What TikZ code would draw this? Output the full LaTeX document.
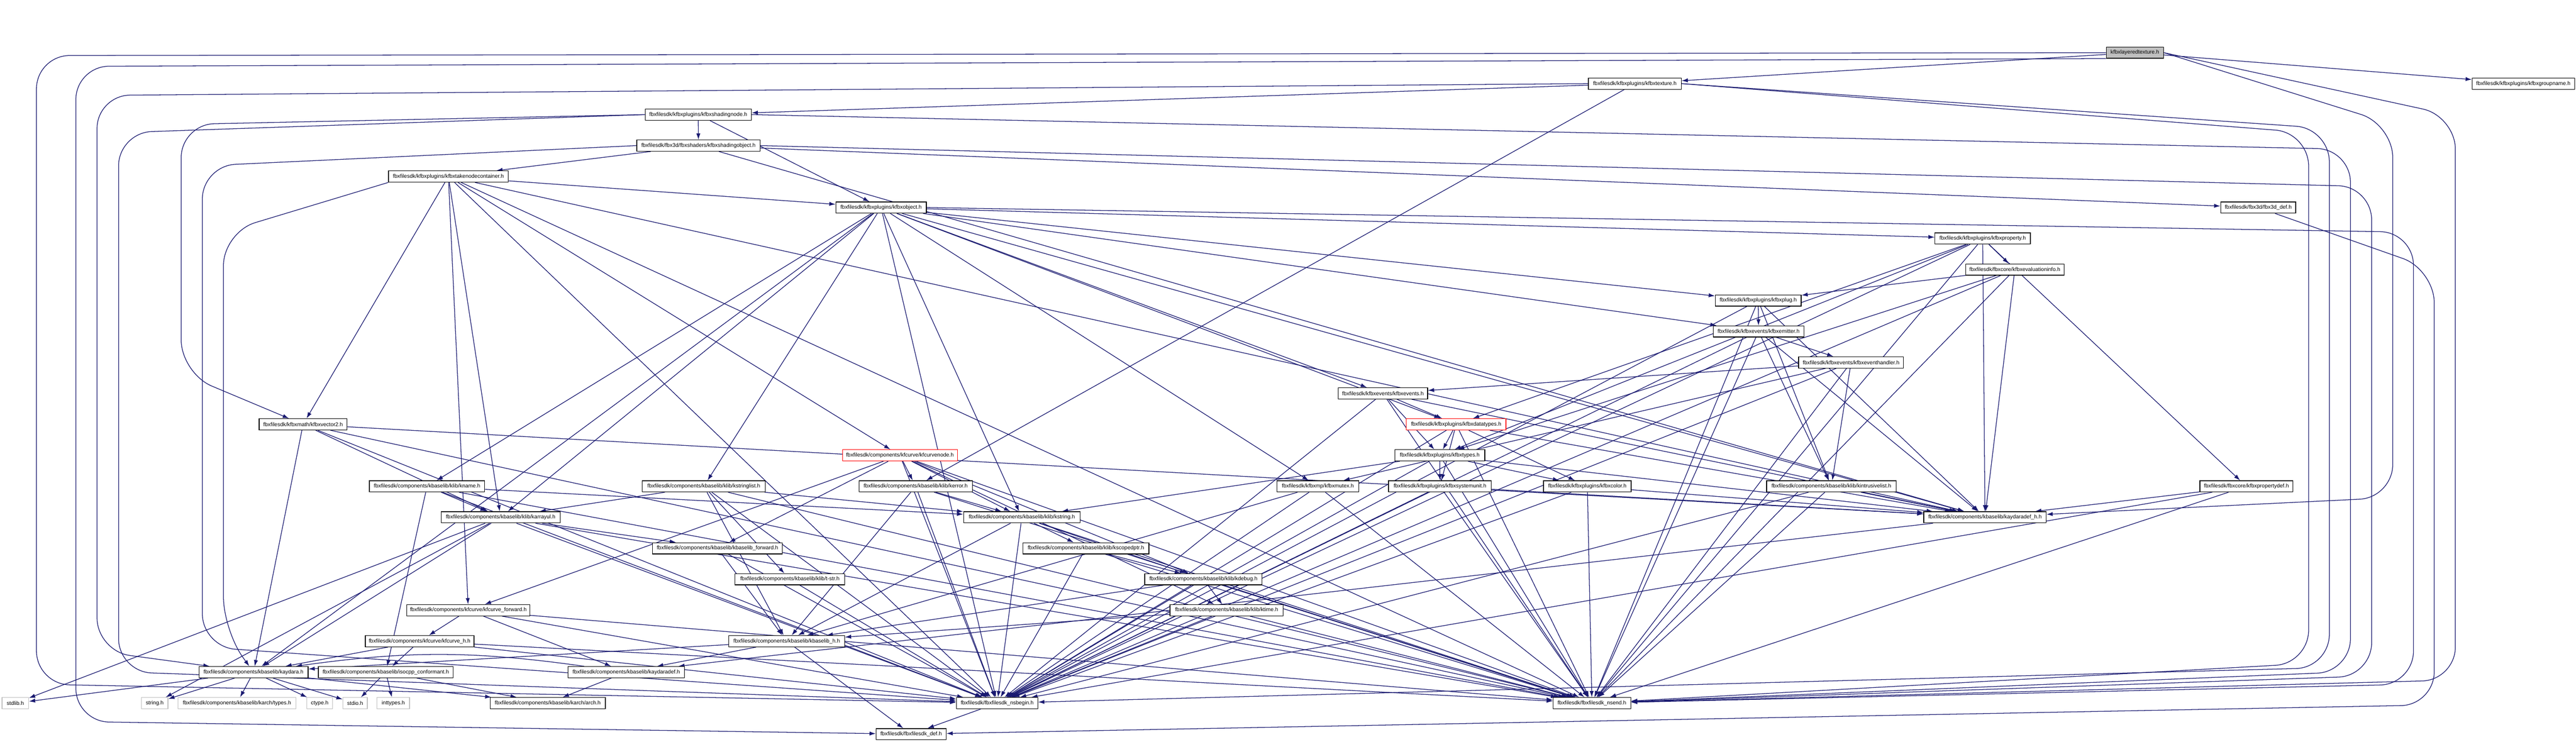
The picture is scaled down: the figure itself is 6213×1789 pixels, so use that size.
\documentclass[tikz,border=0pt]{standalone}
\usepackage{fontspec}
\setmainfont{Liberation Sans}
\usetikzlibrary{arrows.meta}
\definecolor{edgeblue}{RGB}{25,25,112}
\definecolor{graybd}{RGB}{191,191,191}
\pgfdeclarelayer{bg}
\pgfsetlayers{bg,main}
\begin{document}
\begin{tikzpicture}[x=0.01cm,y=-0.01cm,
  box/.style={draw=black, line width=0.45pt, fill=white, minimum height=0.27cm, inner sep=0pt, font=\fontsize{3.7pt}{4pt}\selectfont},
  sysbox/.style={box, draw=graybd},
  redbox/.style={box, draw=red},
  rootbox/.style={box, fill=graybd},
  e/.style={draw=edgeblue, line width=0.45pt, -{Latex[length=0.15cm,width=0.1cm]}},
  re/.style={e, rounded corners=0.8cm}]
\useasboundingbox (0,0) rectangle (6213,1789);
% rank 0-5
\node[rootbox, minimum width=1.38cm] (T) at (5149,127) {kfbxlayeredtexture.h};
\node[box, minimum width=2.24cm] (TX) at (3943,201.7) {fbxfilesdk/kfbxplugins/kfbxtexture.h};
\node[box, minimum width=2.47cm] (GN) at (6086,201.7) {fbxfilesdk/kfbxplugins/kfbxgroupname.h};
\node[box, minimum width=2.56cm] (SN) at (1684,276.4) {fbxfilesdk/kfbxplugins/kfbxshadingnode.h};
\node[box, minimum width=2.97cm] (SO) at (1684.5,351.1) {fbxfilesdk/fbx3d/fbxshaders/kfbxshadingobject.h};
\node[box, minimum width=2.89cm] (TC) at (1081.5,425.8) {fbxfilesdk/kfbxplugins/kfbxtakenodecontainer.h};
\node[box, minimum width=2.18cm] (OB) at (2125,500.5) {fbxfilesdk/kfbxplugins/kfbxobject.h};
\node[box, minimum width=1.81cm] (D3) at (5446.5,500.5) {fbxfilesdk/fbx3d/fbx3d\_def.h};
% rank 6-11
\node[box, minimum width=2.30cm] (PR) at (4782,575.2) {fbxfilesdk/kfbxplugins/kfbxproperty.h};
\node[box, minimum width=2.37cm] (EI) at (4859.5,649.9) {fbxfilesdk/fbxcore/kfbxevaluationinfo.h};
\node[box, minimum width=2.07cm] (PL) at (4240.5,724.6) {fbxfilesdk/kfbxplugins/kfbxplug.h};
\node[box, minimum width=2.19cm] (EM) at (4241.5,799.3) {fbxfilesdk/kfbxevents/kfbxemitter.h};
\node[box, minimum width=2.53cm] (EH) at (4464.5,874) {fbxfilesdk/kfbxevents/kfbxeventhandler.h};
\node[box, minimum width=2.15cm] (EV) at (3335.5,948.7) {fbxfilesdk/kfbxevents/kfbxevents.h};
% rank 12-13
\node[redbox, minimum width=2.40cm] (DT) at (3512,1023.4) {fbxfilesdk/kfbxplugins/kfbxdatatypes.h};
\node[box, minimum width=2.12cm] (V2) at (731,1023.4) {fbxfilesdk/kfbxmath/kfbxvector2.h};
\node[box, minimum width=2.17cm] (TY) at (3472.5,1098.1) {fbxfilesdk/kfbxplugins/kfbxtypes.h};
\node[redbox, minimum width=2.77cm] (CN) at (2170.5,1098.1) {fbxfilesdk/components/kfcurve/kfcurvenode.h};
% rank 14
\node[box, minimum width=2.48cm] (SU) at (3473,1172.8) {fbxfilesdk/kfbxplugins/kfbxsystemunit.h};
\node[box, minimum width=2.11cm] (CO) at (3828.5,1172.8) {fbxfilesdk/kfbxplugins/kfbxcolor.h};
\node[box, minimum width=3.12cm] (IL) at (4417,1172.8) {fbxfilesdk/components/kbaselib/klib/kintrusivelist.h};
\node[box, minimum width=2.78cm] (KN) at (1030,1172.8) {fbxfilesdk/components/kbaselib/klib/kname.h};
\node[box, minimum width=2.97cm] (SL) at (1697.5,1172.8) {fbxfilesdk/components/kbaselib/klib/kstringlist.h};
\node[box, minimum width=2.73cm] (ER) at (2208.5,1172.8) {fbxfilesdk/components/kbaselib/klib/kerror.h};
\node[box, minimum width=1.97cm] (MX) at (3178.5,1172.8) {fbxfilesdk/kfbxmp/kfbxmutex.h};
\node[box, minimum width=2.24cm] (PD) at (5418,1172.8) {fbxfilesdk/fbxcore/kfbxpropertydef.h};
% rank 15-19
\node[box, minimum width=2.95cm] (AH) at (4787.5,1247.5) {fbxfilesdk/components/kbaselib/kaydaradef\_h.h};
\node[box, minimum width=2.87cm] (AU) at (1207.5,1247.5) {fbxfilesdk/components/kbaselib/klib/karrayul.h};
\node[box, minimum width=2.81cm] (ST) at (2464.5,1247.5) {fbxfilesdk/components/kbaselib/klib/kstring.h};
\node[box, minimum width=3.13cm] (BF) at (1730.5,1322.2) {fbxfilesdk/components/kbaselib/kbaselib\_forward.h};
\node[box, minimum width=3.04cm] (SP) at (2619,1322.2) {fbxfilesdk/components/kbaselib/klib/kscopedptr.h};
\node[box, minimum width=2.64cm] (TS) at (1905,1396.9) {fbxfilesdk/components/kbaselib/klib/t-str.h};
\node[box, minimum width=2.83cm] (DB) at (2902.5,1396.9) {fbxfilesdk/components/kbaselib/klib/kdebug.h};
\node[box, minimum width=2.73cm] (TM) at (2958.5,1471.6) {fbxfilesdk/components/kbaselib/klib/ktime.h};
\node[box, minimum width=2.97cm] (CF) at (1129.5,1471.6) {fbxfilesdk/components/kfcurve/kfcurve\_forward.h};
\node[box, minimum width=2.79cm] (BH) at (1897.5,1546.3) {fbxfilesdk/components/kbaselib/kbaselib\_h.h};
\node[box, minimum width=2.62cm] (CH) at (1012,1546.3) {fbxfilesdk/components/kfcurve/kfcurve\_h.h};
% rank 20-22
\node[box, minimum width=2.63cm] (KA) at (611.5,1621) {fbxfilesdk/components/kbaselib/kaydara.h};
\node[box, minimum width=3.25cm] (IC) at (930.5,1621) {fbxfilesdk/components/kbaselib/isocpp\_conformant.h};
\node[box, minimum width=2.81cm] (AD) at (1510.5,1621) {fbxfilesdk/components/kbaselib/kaydaradef.h};
\node[sysbox, minimum width=0.64cm] (SLB) at (37,1695.7) {stdlib.h};
\node[sysbox, minimum width=0.64cm] (SG) at (373,1695.7) {string.h};
\node[sysbox, minimum width=2.85cm] (TP) at (571.5,1695.7) {fbxfilesdk/components/kbaselib/karch/types.h};
\node[sysbox, minimum width=0.62cm] (CT) at (771,1695.7) {ctype.h};
\node[sysbox, minimum width=0.59cm] (SI) at (856.5,1695.7) {stdio.h};
\node[sysbox, minimum width=0.79cm] (IT) at (948.5,1695.7) {inttypes.h};
\node[box, minimum width=2.78cm] (AR) at (1321,1695.7) {fbxfilesdk/components/kbaselib/karch/arch.h};
\node[box, minimum width=1.96cm] (NB) at (2405,1695.7) {fbxfilesdk/fbxfilesdk\_nsbegin.h};
\node[box, minimum width=1.87cm] (NE) at (3839.5,1695.7) {fbxfilesdk/fbxfilesdk\_nsend.h};
\node[box, minimum width=1.69cm] (DEF) at (2197.5,1770.4) {fbxfilesdk/fbxfilesdk\_def.h};

\begin{pgfonlayer}{bg}
\foreach \a/\b in {T/TX, T/GN, TX/SN, TX/ER, SN/SO, SN/OB, SO/TC, SO/D3, SO/AH,
  TC/OB, TC/CN, TC/CF, TC/V2, TC/AU, TC/NB, TC/NE, TC/AH,
  OB/PR, OB/PL, OB/EM, OB/EV, OB/DT, OB/MX, OB/ST, OB/AU, OB/SL, OB/KN, OB/KA, OB/AH, OB/NB,
  PR/EI, PR/PD, PR/DT, PR/TY, PR/AH, PR/NB, PR/NE,
  EI/PL, EI/TY, EI/AH, EI/NB, EI/NE,
  PL/EM, PL/IL, PL/AH, PL/NB, PL/NE,
  EM/EH, EM/IL, EM/AH, EM/NB, EM/NE,
  EH/EV, EH/IL, EH/MX, EH/NB, EH/NE,
  EV/DT, EV/TY, EV/AH, EV/NB, EV/NE,
  DT/TY, DT/CO, DT/SU, DT/AH, DT/NB, DT/NE,
  V2/KA, V2/AU, V2/AH, V2/NB, V2/NE,
  TY/SU, TY/CO, TY/ST, TY/AH, TY/NB, TY/NE,
  CN/ER, CN/ST, CN/BF, CN/CF, CN/DB, CN/TM, CN/NB, CN/NE,
  SU/AH, SU/NB, SU/NE, CO/AH, CO/NB, CO/NE, IL/AH, IL/NB, IL/NE,
  KN/AU, KN/ST, KN/IC, KN/NB, KN/NE,
  SL/ST, SL/TS, SL/BH, SL/AU, SL/NB, SL/NE,
  ER/ST, ER/BH, ER/NB, ER/NE, MX/BH, MX/NB, MX/NE, PD/AH, PD/NB, PD/NE,
  AH/AD, AU/BF, AU/KA, AU/SG, AU/SLB, AU/NB, AU/NE,
  ST/SP, ST/BH, ST/DB, ST/NB, ST/NE, BF/BH, BF/NB, SP/DB, SP/NB, SP/NE, TS/NB,
  DB/TM, DB/BH, DB/NB, DB/NE, TM/BH, TM/NB, TM/NE,
  CF/CH, CF/AD, CF/NB, CF/NE, BH/DEF, BH/KA, BH/AD,
  CH/KA, CH/IC, CH/NB, CH/NE,
  KA/SG, KA/TP, KA/CT, KA/SI, KA/SLB, KA/AR, IC/SI, IC/IT, IC/AR, AD/AR, NB/DEF}
  \draw[e] (\a) -- (\b);
\draw[e] (AD) to[bend right=8] (KA);
% long edges routed round the left side
\draw[re] (T.west) -- (88,134) -- (88,1650) -- (NB);
\draw[re] (T.south west) -- (183,160) -- (183,1740) -- (DEF);
\draw[re] (TX.west) -- (234,230) -- (234,1570) -- (KA);
\draw[re] (SN.west) -- (437,300) -- (437,900) -- (V2);
\draw[re] (SN.west) -- (286,320) -- (286,1620) -- (NB);
\draw[re] (SO.west) -- (488,400) -- (488,1560) -- (NB);
\draw[re] (TC.south west) -- (539,560) -- (539,1520) -- (KA);
% long edges routed round the right side
\draw[re] (TX.east) -- (5568,320) -- (5568,1600) -- (NE);
\draw[re] (TX.east) -- (5618,310) -- (5618,1610) -- (NB);
\draw[re] (SN.east) -- (5669,360) -- (5669,1620) -- (NE);
\draw[re] (SO.east) -- (5720,450) -- (5720,1630) -- (NE);
\draw[re] (T.east) -- (5922,280) -- (5922,1640) -- (NE);
\draw[re] (T.east) -- (5771,300) -- (5771,1200) -- (AH);
\draw[re] (OB.east) -- (5821,560) -- (5821,1650) -- (NE);
\draw[re] (D3) -- (5871,650) -- (5871,1700) -- (DEF);
\end{pgfonlayer}
\end{tikzpicture}
\end{document}
